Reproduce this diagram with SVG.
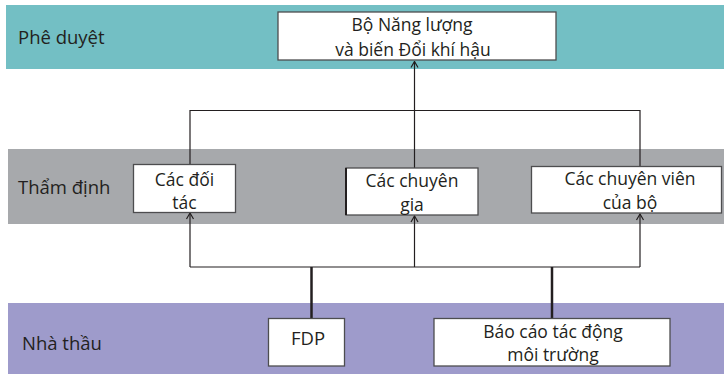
<svg xmlns="http://www.w3.org/2000/svg" width="724" height="374" viewBox="0 0 724 374">
<style>
text{font-family:"Open Sans","Noto Sans",sans-serif;font-size:18.5px;fill:#231f20}
.box{fill:#fff;stroke:#4d4d4f;stroke-width:1.3}
.ln{fill:none;stroke:#231f20;stroke-width:1.2}
.thick{fill:none;stroke:#231f20;stroke-width:2.5}
.c{text-anchor:middle}
.s{font-size:17.5px}
</style>
<defs>
<marker id="arr" viewBox="-8 -5 9 10" refX="0" refY="0" markerWidth="9" markerHeight="10" markerUnits="userSpaceOnUse" orient="auto">
<path d="M-6,-3.5 L0,0 L-6,3.5" fill="none" stroke="#231f20" stroke-width="1.2"/>
</marker>
</defs>
<g id="bands">
<rect x="6" y="5" width="718" height="64" fill="#73bfc4"/>
<rect x="8" y="149" width="716" height="75" fill="#a7a9ac"/>
<rect x="8" y="303" width="716" height="71" fill="#9e9bcb"/>
<text x="18" y="44">Phê duyệt</text>
<text x="18" y="194">Thẩm định</text>
<text x="22" y="350">Nhà thầu</text>
</g>
<g id="connectors">
<path class="ln" d="M190,164 V110.5 H640 V166"/>
<path class="ln" d="M414.5,168 V110.5 V61.5" marker-end="url(#arr)"/>
<path class="ln" d="M190,267 V213" marker-end="url(#arr)"/>
<path class="ln" d="M414.5,267 V216" marker-end="url(#arr)"/>
<path class="ln" d="M640,267 V214" marker-end="url(#arr)"/>
<path class="ln" d="M190,267 H640"/>
<path class="thick" d="M311.5,267 V318"/>
<path class="thick" d="M552,267 V318"/>
</g>
<g id="node-bo">
<rect class="box" x="278" y="12" width="278" height="48"/>
<text class="c s" x="412" y="31">Bộ Năng lượng</text>
<text class="c s" x="413" y="55.5">và biến Đổi khí hậu</text>
</g>
<g id="node-doitac">
<rect class="box" x="133.5" y="164.5" width="102" height="48"/>
<text class="c s" x="184.5" y="185.5">Các đối</text>
<text class="c s" x="184.5" y="209">tác</text>
</g>
<g id="node-chuyengia">
<rect class="box" x="346" y="168" width="132" height="47"/>
<line x1="346" y1="168" x2="346" y2="215" stroke="#231f20" stroke-width="2"/>
<text class="c s" x="412" y="187">Các chuyên</text>
<text class="c s" x="412" y="210.5">gia</text>
</g>
<g id="node-chuyenvien">
<rect class="box" x="531.5" y="166.5" width="190" height="46.5"/>
<text class="c s" x="630" y="185">Các chuyên viên</text>
<text class="c s" x="630" y="208.5">của bộ</text>
</g>
<g id="node-fdp">
<rect class="box" x="268.5" y="318.5" width="76" height="47.5"/>
<text class="c" x="308" y="345">FDP</text>
</g>
<g id="node-baocao">
<rect class="box" x="434" y="318.5" width="236" height="47.5"/>
<text class="c s" x="553" y="337.5">Báo cáo tác động</text>
<text class="c s" x="553" y="361">môi trường</text>
</g>
</svg>
